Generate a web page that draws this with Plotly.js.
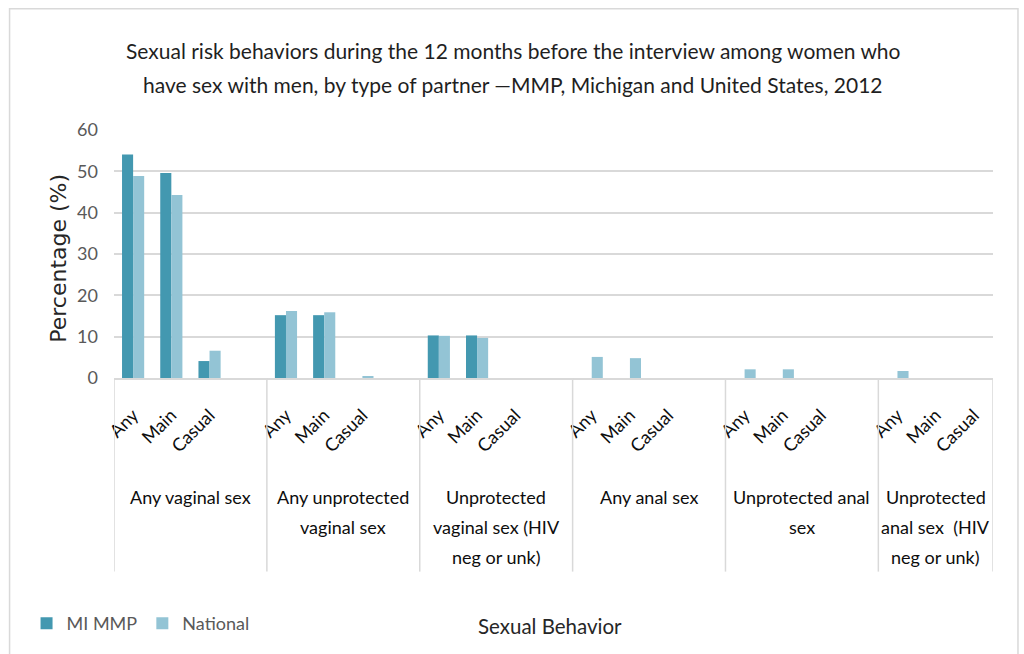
<!DOCTYPE html>
<html>
<head>
<meta charset="utf-8">
<script src="https://cdn.plot.ly/plotly-3.0.1.min.js"></script>
<style>
  html, body { margin: 0; padding: 0; background: #ffffff; }
  #chart { width: 1024px; height: 654px; }
</style>
</head>
<body>
<div id="chart"></div>
<script>
// Behaviour groups (outer categories); <br> marks a line break in the label
const behaviors = [
  "Any vaginal sex",
  "Any unprotected<br>vaginal sex",
  "Unprotected<br>vaginal sex (HIV<br>neg or unk)",
  "Any anal sex",
  "Unprotected anal<br>sex",
  "Unprotected<br>anal sex  (HIV<br>neg or unk)"
];
// Partner types (inner categories), repeated within each behaviour
const partners = ["Any", "Main", "Casual"];

// Percentages, behaviour by behaviour, in partner order Any / Main / Casual
const miMMP = [
  54.1, 49.6, 4.1,
  15.2, 15.2, 0,
  10.3, 10.3, 0,
  0, 0, 0,
  0, 0, 0,
  0, 0, 0
];
const national = [
  48.9, 44.3, 6.6,
  16.2, 15.9, 0.4,
  10.2, 9.7, 0,
  5.1, 4.8, 0,
  2.1, 2.1, 0,
  1.7, 0, 0
];

const seriesNames = ["MI MMP", "National"];
const yTicks = [0, 10, 20, 30, 40, 50, 60];

const titleLines = [
  "Sexual risk behaviors during the 12 months before the interview among women who",
  "have sex with men, by type of partner \u2014MMP, Michigan and United States, 2012"
];
const xTitle = "Sexual Behavior";
const yTitle = "Percentage (%)";

// ---- layout geometry ----
const W = 1024, H = 654;
const M = { l: 113.5, r: 31, t: 129.5, b: 276 };
const plotW = W - M.l - M.r, plotH = H - M.t - M.b;
const pxX = px => (px - M.l) / plotW;          // page px -> paper x
const pxY = py => (H - M.b - py) / plotH;      // page px -> paper y

// each behaviour takes 4 slots on the x axis: 3 partner types + a spacer
const SLOTS = partners.length + 1;
const slotOf = i => Math.floor(i / partners.length) * SLOTS + (i % partners.length);
const xPos = miMMP.map((_, i) => slotOf(i));
const lastSlot = (behaviors.length - 1) * SLOTS + partners.length - 1;

const tickText = xPos.map((_, i) => partners[i % partners.length]);

const colors = ["#4398b0", "#93c4d5"];

const traces = [miMMP, national].map((vals, k) => ({
  type: "bar",
  name: seriesNames[k],
  x: xPos,
  y: vals,
  marker: { color: colors[k], line: { width: 0 } },
  hoverinfo: "x+y+name"
}));

const FONT = "Lato, 'Open Sans', sans-serif";

// group dividers below the axis
const boundaries = behaviors.map((_, g) => g * SLOTS - 0.5).concat([lastSlot + 0.5]);
const shapes = boundaries.map(b => ({
  type: "line", xref: "x", yref: "paper",
  x0: b, x1: b, y0: 0, y1: pxY(572),
  line: { color: "#d9d9d9", width: 1.5 }
}));
// chart frame
shapes.push({
  type: "rect", xref: "paper", yref: "paper",
  x0: pxX(9), x1: pxX(1018), y0: pxY(8), y1: pxY(720),
  line: { color: "#d9d9d9", width: 1.5 }, fillcolor: "rgba(0,0,0,0)", layer: "below"
});

const annotations = [];
// behaviour labels, one annotation per line for the wider line spacing
behaviors.forEach((label, g) => {
  const first = g * SLOTS;
  const last = Math.min(first + SLOTS - 1, lastSlot);
  const center = (first + last) / 2;
  label.split("<br>").forEach((line, j) => {
    annotations.push({
      xref: "x", yref: "paper", x: center, y: pxY(497 + 30 * j),
      text: line, showarrow: false, xanchor: "center", yanchor: "middle",
      font: { family: FONT, size: 18, color: "#0d0d0d" }
    });
  });
});
// chart title
titleLines.forEach((line, j) => {
  annotations.push({
    xref: "paper", yref: "paper", x: pxX(513), y: pxY(50 + 34 * j),
    text: line, showarrow: false, xanchor: "center", yanchor: "middle",
    font: { family: FONT, size: 21, color: "#1f1f1f" }
  });
});
// axis titles
annotations.push({
  xref: "paper", yref: "paper", x: pxX(550), y: pxY(627),
  text: xTitle, showarrow: false, xanchor: "center", yanchor: "middle",
  font: { family: FONT, size: 20.5, color: "#262626" }
});
annotations.push({
  xref: "paper", yref: "paper", x: pxX(58), y: pxY(258),
  text: yTitle, showarrow: false, textangle: -90, xanchor: "center", yanchor: "middle",
  font: { family: "'DejaVu Sans', sans-serif", size: 22, color: "#262626" }
});

const layout = {
  width: W, height: H,
  margin: M,
  paper_bgcolor: "#ffffff",
  plot_bgcolor: "#ffffff",
  barmode: "group",
  bargap: 0.42,
  bargroupgap: 0,
  showlegend: true,
  legend: {
    orientation: "h",
    x: pxX(26), xanchor: "left",
    y: pxY(624), yanchor: "middle",
    font: { family: FONT, size: 18, color: "#595959" },
    bgcolor: "rgba(0,0,0,0)",
    itemclick: false, itemdoubleclick: false
  },
  xaxis: {
    range: [-0.5, lastSlot + 0.5],
    tickmode: "array",
    tickvals: xPos,
    ticktext: tickText,
    tickangle: -45,
    ticks: "",
    ticklabelstandoff: 18,
    tickfont: { family: FONT, size: 18, color: "#0d0d0d" },
    showgrid: false,
    zeroline: false,
    showline: true,
    linecolor: "#d9d9d9",
    linewidth: 1.5,
    fixedrange: true
  },
  yaxis: {
    range: [0, 60],
    tickmode: "array",
    tickvals: yTicks,
    ticks: "",
    ticklabelstandoff: 15,
    tickfont: { family: FONT, size: 18, color: "#595959" },
    showgrid: true,
    gridcolor: "#d9d9d9",
    gridwidth: 1.5,
    zeroline: false,
    showline: false,
    fixedrange: true
  },
  shapes: shapes,
  annotations: annotations
};

Plotly.newPlot("chart", traces, layout, { displayModeBar: false, staticPlot: false });
</script>
</body>
</html>
